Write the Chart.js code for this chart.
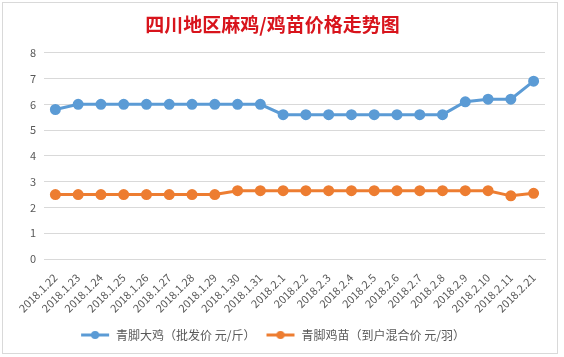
<!DOCTYPE html>
<html><head><meta charset="utf-8">
<script src="https://cdn.jsdelivr.net/npm/chart.js@4"></script>
<style>html,body{margin:0;padding:0;background:#fff}#c{display:block}</style>
</head><body>
<canvas id="c" width="564" height="357"></canvas>
<script>
const categories = ["2018.1.22","2018.1.23","2018.1.24","2018.1.25","2018.1.26","2018.1.27","2018.1.28","2018.1.29","2018.1.30","2018.1.31","2018.2.1","2018.2.2","2018.2.3","2018.2.4","2018.2.5","2018.2.6","2018.2.7","2018.2.8","2018.2.9","2018.2.10","2018.2.11","2018.2.21"];
const broilerPrice = [5.8,6.0,6.0,6.0,6.0,6.0,6.0,6.0,6.0,6.0,5.6,5.6,5.6,5.6,5.6,5.6,5.6,5.6,6.1,6.2,6.2,6.9];
const chickPrice = [2.5,2.5,2.5,2.5,2.5,2.5,2.5,2.5,2.65,2.65,2.65,2.65,2.65,2.65,2.65,2.65,2.65,2.65,2.65,2.65,2.45,2.55];
const seriesNames = ["青脚大鸡（批发价 元/斤）","青脚鸡苗（到户混合价 元/羽）"];
const titleText = "四川地区麻鸡/鸡苗价格走势图";
const colors = ["#5b9bd5","#ed7d31"];

function legendIcon(color){
  const cv=document.createElement('canvas'); cv.width=30; cv.height=10;
  const g=cv.getContext('2d');
  g.strokeStyle=color; g.lineWidth=3; g.beginPath(); g.moveTo(1,5); g.lineTo(29,5); g.stroke();
  g.fillStyle=color; g.beginPath(); g.arc(15,5,4,0,Math.PI*2); g.fill();
  return cv;
}
const icons = colors.map(legendIcon);

const bgPlugin = {
  id:'bg',
  beforeDraw(chart){
    const ctx=chart.ctx; ctx.save();
    ctx.fillStyle='#fff'; ctx.fillRect(0,0,chart.width,chart.height);
    ctx.strokeStyle='#d9d9d9'; ctx.lineWidth=1;
    ctx.strokeRect(2.5,2.5,555,351);
    ctx.restore();
  }
};

new Chart(document.getElementById('c'),{
  type:'line',
  data:{labels:categories,datasets:[
    {label:seriesNames[0],data:broilerPrice,borderColor:colors[0],backgroundColor:colors[0],borderWidth:3,pointRadius:4,pointHoverRadius:4,tension:0},
    {label:seriesNames[1],data:chickPrice,borderColor:colors[1],backgroundColor:colors[1],borderWidth:3,pointRadius:4,pointHoverRadius:4,tension:0}
  ]},
  options:{
    responsive:false,animation:false,
    layout:{padding:{left:0,right:19,top:0,bottom:6}},
    plugins:{
      title:{display:true,text:titleText,color:'#d8141c',font:{family:'"Noto Sans CJK SC"',size:19,weight:'bold'},padding:{top:13,bottom:17}},
      legend:{position:'bottom',labels:{
        font:{family:'"Noto Sans CJK SC"',size:12},color:'#595959',usePointStyle:true,pointStyleWidth:30,padding:10,
        generateLabels(chart){
          return chart.data.datasets.map((d,i)=>({text:d.label,pointStyle:icons[i],fillStyle:colors[i],strokeStyle:colors[i],lineWidth:0,datasetIndex:i,fontColor:'#595959'}));
        }}},
      tooltip:{enabled:false}
    },
    scales:{
      x:{offset:true,grid:{display:false},border:{display:true,color:'#d9d9d9'},
        ticks:{color:'#595959',font:{family:'"Noto Sans CJK SC"',size:11},minRotation:45,maxRotation:45,autoSkip:false,padding:4},
        afterFit(s){s.height=60;}},
      y:{min:0,max:8,grid:{color:'#d9d9d9',drawTicks:false},border:{display:false},
        ticks:{stepSize:1,color:'#595959',font:{family:'"Noto Sans CJK SC"',size:11},padding:8},
        afterFit(s){s.width=44;}}
    }
  },
  plugins:[bgPlugin]
});
</script>
</body></html>
